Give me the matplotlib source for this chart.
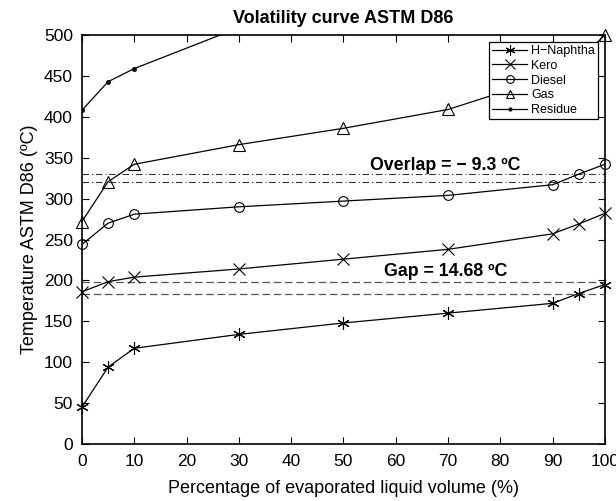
import matplotlib
matplotlib.use("Agg")
import matplotlib.pyplot as plt

plt.rcParams['font.family'] = ['Liberation Sans', 'DejaVu Sans']

x_naphtha = [0, 5, 10, 30, 50, 70, 90, 95, 100]
naphtha = [45, 94, 117, 134, 148, 160, 172, 184, 195]
x_kero = [0, 5, 10, 30, 50, 70, 90, 95, 100]
kero = [186, 198.5, 204, 214, 226, 238, 257, 269, 282]
x_diesel = [0, 5, 10, 30, 50, 70, 90, 95, 100]
diesel = [244, 270, 281, 290, 297, 304, 317, 330, 342]
x_gas = [0, 5, 10, 30, 50, 70, 90, 95, 100]
gas = [272, 320.7, 342, 366, 386, 409, 450, 470, 500]
x_residue = [0, 5, 10, 30, 50]
residue = [408, 443, 459, 509, 540]

gap_lines = [198.5, 183.8]
overlap_lines = [330, 320.7]
gap_text = "Gap = 14.68 ºC"
overlap_text = "Overlap = − 9.3 ºC"

fig = plt.figure(figsize=(6.16, 5.01), dpi=100)
ax = fig.add_axes([0.133, 0.1138, 0.849, 0.8162])

for y in gap_lines:
    ax.axhline(y, color='#555555', ls=(0, (6, 3)), lw=0.9)
for y in overlap_lines:
    ax.axhline(y, color='#333333', ls=(0, (6, 2.5, 1, 2.5)), lw=0.8)

lw = 0.9
ax.plot(x_naphtha, naphtha, 'k-', marker=(6, 2, 0), ms=9, mew=0.8, lw=lw, label='H\u2212Naphtha', clip_on=False, zorder=3)
ax.plot(x_kero, kero, 'k-', marker='x', ms=9, mew=0.8, lw=lw, label='Kero', clip_on=False, zorder=3)
ax.plot(x_diesel, diesel, 'k-', marker='o', ms=7, mew=0.8, mfc='none', lw=lw, label='Diesel', clip_on=False, zorder=3)
ax.plot(x_gas, gas, 'k-', marker='^', ms=8, mew=0.8, mfc='none', lw=lw, label='Gas', clip_on=False, zorder=3)
ax.plot(x_residue, residue, 'k-', marker='.', ms=5, lw=lw, label='Residue', zorder=3)

ax.text(69.4, 341, overlap_text, ha='center', va='center', fontsize=12.8, fontweight='bold')
ax.text(69.5, 210.6, gap_text, ha='center', va='center', fontsize=12.8, fontweight='bold')

ax.set_xlim(0, 100)
ax.set_ylim(0, 500)
ax.set_xticks(range(0, 101, 10))
ax.set_yticks(range(0, 501, 50))
ax.tick_params(direction='in', top=True, right=True, labelsize=12.5, length=5, width=0.8)
ax.tick_params(axis='x', pad=7)
ax.tick_params(axis='y', pad=6.5)
for s in ax.spines.values():
    s.set_linewidth(1.2)

ax.set_title('Volatility curve ASTM D86', fontsize=13, fontweight='bold', pad=9)
ax.set_xlabel('Percentage of evaporated liquid volume (%)', fontsize=13, labelpad=8)
ax.set_ylabel('Temperature ASTM D86 (ºC)', fontsize=13, labelpad=4)

leg = ax.legend(loc='upper right', fontsize=9, frameon=True, fancybox=False,
                edgecolor='black', framealpha=1, handlelength=2.8, borderpad=0.25,
                labelspacing=0.22, handletextpad=0.3, borderaxespad=0.55, markerscale=0.8)
leg.get_frame().set_linewidth(0.9)
leg.set_zorder(5)

fig.savefig('out.png', dpi=100)
